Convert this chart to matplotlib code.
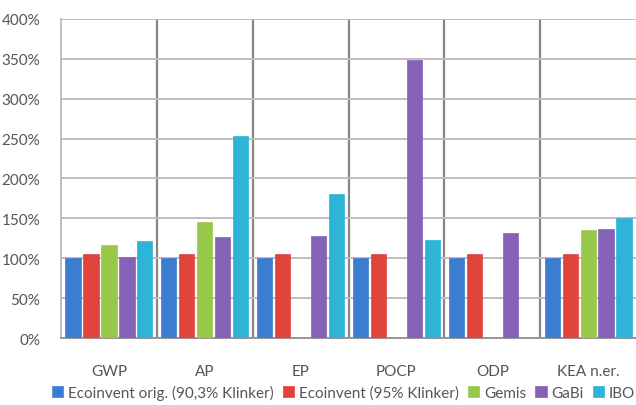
import numpy as np
import matplotlib.pyplot as plt
from matplotlib.ticker import FuncFormatter

plt.rcParams['font.family'] = ['Lato', 'DejaVu Sans']

categories = ['GWP', 'AP', 'EP', 'POCP', 'ODP', 'KEA n.er.']
series_names = ['Ecoinvent orig. (90,3% Klinker)', 'Ecoinvent (95% Klinker)',
                'Gemis', 'GaBi', 'IBO']
# percent values, None where a source gives no value
ecoinvent_orig = [100, 100, 100, 100, 100, 100]
ecoinvent_95 = [105, 105, 105, 105, 105, 105]
gemis = [116, 145, None, None, None, 135]
gabi = [101, 127, 128, 349, 131, 137]
ibo = [122, 253, 181, 123, None, 151]
series = [ecoinvent_orig, ecoinvent_95, gemis, gabi, ibo]
colors = ['#3b7dd0', '#e0443a', '#98c84a', '#8562b5', '#2eb4d8']

fig = plt.figure(figsize=(6.36, 4.06), dpi=100)
ax = fig.add_axes([0.096, 0.165, 0.904, 0.786])

x = np.arange(len(categories))
step = 0.1875
width = 0.158
for i, (vals, col) in enumerate(zip(series, colors)):
    xs = [xi + (i - 2) * step for xi, v in zip(x, vals) if v is not None]
    ys = [v for v in vals if v is not None]
    ax.bar(xs, ys, width=width, color=col, edgecolor=col, linewidth=0.5,
           label=series_names[i], zorder=3)

ax.set_xlim(-0.5, len(categories) - 0.5)
ax.set_ylim(0, 400)
ax.set_yticks(np.arange(0, 401, 50))
ax.yaxis.set_major_formatter(FuncFormatter(lambda v, p: '%d%%' % v))
ax.set_xticks(x)
ax.set_xticklabels(categories)
ax.set_xticks(np.arange(0.5, len(categories) - 0.5, 1), minor=True)

ax.grid(axis='y', color='#c4bcbc', linewidth=1.4, zorder=0)
ax.grid(axis='x', which='minor', color='#8a8484', linewidth=1.6, zorder=1)
ax.grid(axis='x', which='major', visible=False)

for side in ['top', 'right']:
    ax.spines[side].set_visible(False)
ax.spines['left'].set_color('#c4bcbc')
ax.spines['left'].set_linewidth(1.4)
ax.spines['bottom'].set_color('#9a9494')
ax.spines['bottom'].set_linewidth(1.4)

ax.tick_params(axis='both', which='both', length=0, colors='#555555')
ax.tick_params(axis='x', pad=19, labelsize=11)
ax.tick_params(axis='y', pad=15, labelsize=11)

handles, labels = ax.get_legend_handles_labels()
fig.legend(handles, labels, loc='center', bbox_to_anchor=(0.54, 0.032), ncol=5,
           frameon=False, fontsize=11, handlelength=0.75, handleheight=0.75,
           handletextpad=0.3, columnspacing=0.6, labelcolor='#555555')

fig.savefig('out.png', dpi=100)
